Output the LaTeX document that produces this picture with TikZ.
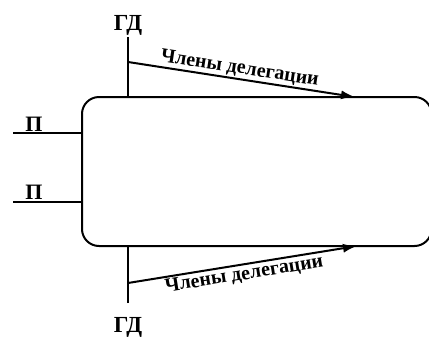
\documentclass[tikz,border=0pt]{standalone}
\usepackage{fontspec}
\setmainfont{Liberation Serif}
\usetikzlibrary{arrows.meta}
\begin{document}
\begin{tikzpicture}[x=1pt,y=-1pt,
  wire/.style={line width=2pt},
  flow/.style={line width=2pt,-{Latex[length=14pt,width=9pt]}},
  lbl/.style={font=\fontsize{22}{26}\selectfont\bfseries,inner sep=0pt},
  gdlbl/.style={font=\fontsize{23}{27}\selectfont\bfseries,inner sep=0pt},
  arrlbl/.style={font=\fontsize{20}{24}\selectfont\bfseries,inner sep=2pt}]
  \useasboundingbox (0,0) rectangle (429,338);
  % main process block (right side runs past the edge)
  \node[draw,line width=2pt,rounded corners=17pt,minimum width=349.5pt,minimum height=149pt,inner sep=0pt]
    (box) at (256.75,171.5) {};
  % top control input
  \node[gdlbl,anchor=base] (gdT) at (128,30) {ГД};
  \coordinate (tTop) at (128,37);
  \coordinate (tStart) at (128,62);
  \coordinate (tEnd) at (355,97);
  \draw[wire] (tTop) -- (tTop |- box.north);
  \draw[flow] (tStart) -- (tEnd);
  \path (tStart) -- (tEnd) node[arrlbl,pos=0.485,sloped,above] (lblT) {Члены делегации};
  % bottom control input
  \node[gdlbl,anchor=base] (gdB) at (128,332) {ГД};
  \coordinate (bBot) at (128,303);
  \coordinate (bStart) at (128,283);
  \coordinate (bEnd) at (357,246);
  \draw[wire] (bBot) -- (bBot |- box.south);
  \draw[flow] (bStart) -- (bEnd);
  \path (bStart) -- (bEnd) node[arrlbl,midway,sloped,below] (lblB) {Члены делегации};
  % left inputs
  \coordinate (p1) at (13,133);
  \coordinate (p2) at (13,202);
  \node[lbl,anchor=base] (pT) at (34,131) {П};
  \node[lbl,anchor=base] (pB) at (34,199) {П};
  \draw[wire] (p1) -- (p1 -| box.west);
  \draw[wire] (p2) -- (p2 -| box.west);
\end{tikzpicture}
\end{document}
